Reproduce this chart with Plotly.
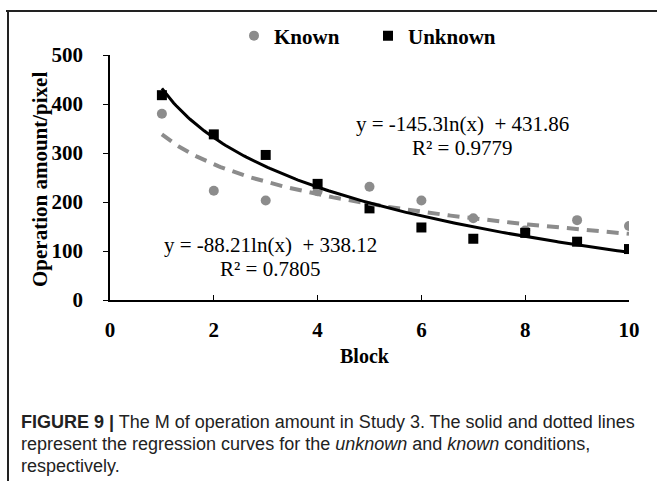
import numpy as np
import plotly.graph_objects as go

# ---- data ----
blocks = [1, 2, 3, 4, 5, 6, 7, 8, 9, 10]
known = [380, 223, 203, 222, 231, 203, 167, 142, 163, 151]
unknown = [418, 338, 296, 237, 187, 148, 125, 137, 119, 104]
known_fit = [-88.21, 338.12]     # slope, intercept of ln fit
unknown_fit = [-145.3, 431.86]
known_r2 = "0.7805"
unknown_r2 = "0.9779"
x_ticks = [0, 2, 4, 6, 8, 10]
y_ticks = [0, 100, 200, 300, 400, 500]

W, H = 657, 481
L, R, T, B = 110, 28, 55, 181
pw, ph = W - L - R, H - T - B

def px(x):
    return (x - L) / pw

def py(y):
    return (T + ph - y) / ph

SERIF = "Liberation Serif"
SANS = "Liberation Sans"

xc = np.linspace(1, 10, 200)
kc = known_fit[0] * np.log(xc) + known_fit[1]
uc = unknown_fit[0] * np.log(xc) + unknown_fit[1]

fig = go.Figure()
fig.add_trace(go.Scatter(x=blocks, y=known, mode="markers", name="<b>Known</b>",
                         marker=dict(symbol="circle", size=10, color="#8c8c8c")))
fig.add_trace(go.Scatter(x=blocks, y=unknown, mode="markers", name="<b>Unknown</b>",
                         marker=dict(symbol="square", size=10, color="black")))
fig.add_trace(go.Scatter(x=xc, y=kc, mode="lines", showlegend=False, hoverinfo="skip",
                         line=dict(color="#8c8c8c", width=4, dash="12px,8px")))
fig.add_trace(go.Scatter(x=xc, y=uc, mode="lines", showlegend=False, hoverinfo="skip",
                         line=dict(color="black", width=3)))

def A(x, y, text, size=21, family=SERIF, xanchor="center", angle=0, color="black"):
    return dict(xref="paper", yref="paper", x=px(x), y=py(y), showarrow=False,
                xanchor=xanchor, yanchor="middle", textangle=angle, text=text,
                font=dict(family=family, size=size, color=color))

ann = [
    A(462, 124, f"y = {unknown_fit[0]}ln(x)  + {unknown_fit[1]}"),
    A(462, 148, f"R² = {unknown_r2}"),
    A(270, 245, f"y = {known_fit[0]}ln(x)  + {known_fit[1]}"),
    A(270, 269, f"R² = {known_r2}"),
    A(40, 180, "<b>Operation amount/pixel</b>", angle=-90),
    A(365, 356, "<b>Block</b>", size=20),
    A(19, 422, "<b>FIGURE 9 |</b> The M of operation amount in Study 3. The solid and dotted lines",
      size=18, family=SANS, xanchor="left", color="#222222"),
    A(19, 444, "represent the regression curves for the <i>unknown</i> and <i>known</i> conditions,",
      size=18, family=SANS, xanchor="left", color="#222222"),
    A(19, 466, "respectively.", size=18, family=SANS, xanchor="left", color="#222222"),
]

shapes = [
    dict(type="line", xref="paper", yref="paper", x0=px(6), x1=px(660), y0=py(11), y1=py(11),
         line=dict(color="#222222", width=2)),
    dict(type="line", xref="paper", yref="paper", x0=px(8), x1=px(8), y0=py(10), y1=py(485),
         line=dict(color="#222222", width=2)),
]

fig.update_layout(
    width=W, height=H, margin=dict(l=L, r=R, t=T, b=B),
    plot_bgcolor="white", paper_bgcolor="white",
    annotations=ann, shapes=shapes,
    legend=dict(orientation="h", x=px(234), y=py(36), xanchor="left", yanchor="middle",
                entrywidth=89, entrywidthmode="pixels",
                font=dict(family=SERIF, size=21, color="black"), bgcolor="rgba(0,0,0,0)",
                itemclick=False),
    xaxis=dict(range=[0, 10], tickvals=x_ticks, ticktext=[f"<b>{v}</b>" for v in x_ticks],
               showline=True, linecolor="black", linewidth=1.5,
               ticks="inside", ticklen=5, tickcolor="black", showgrid=False, zeroline=False,
               tickfont=dict(family=SERIF, size=21, color="black"), ticklabelstandoff=10),
    yaxis=dict(range=[0, 500], tickvals=y_ticks, ticktext=[f"<b>{v}</b>" for v in y_ticks],
               showline=True, linecolor="black", linewidth=1.5,
               ticks="outside", ticklen=5, tickcolor="black", showgrid=False, zeroline=False,
               tickfont=dict(family=SERIF, size=21, color="black"), ticklabelstandoff=16),
)

fig.write_html("out.html")
